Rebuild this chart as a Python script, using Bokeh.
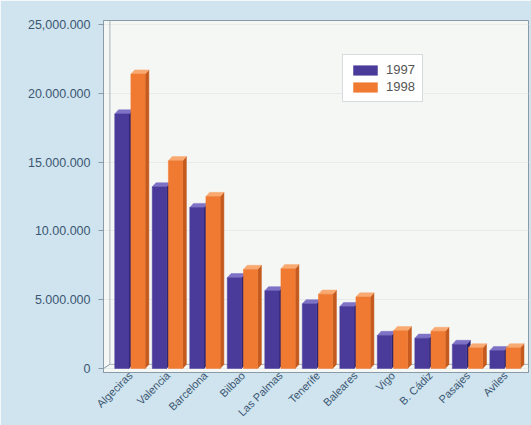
from bokeh.plotting import figure
from bokeh.models import Range1d, FixedTicker, Legend, LegendItem
from bokeh.embed import file_html
from bokeh.resources import INLINE
import math

ports = ["Algeciras", "Valencia", "Barcelona", "Bilbao", "Las Palmas", "Tenerife",
         "Baleares", "Vigo", "B. Cádiz", "Pasajes", "Aviles"]
v1997 = [18500000, 13200000, 11700000, 6600000, 5650000, 4700000,
         4500000, 2400000, 2200000, 1750000, 1300000]
v1998 = [21400000, 15100000, 12500000, 7200000, 7250000, 5400000,
         5200000, 2750000, 2700000, 1500000, 1500000]
yticks = [0, 5000000, 10000000, 15000000, 20000000, 25000000]
ytick_labels = ["0", "5.000.000", "10.00.000", "15.000.000", "20.000.000", "25,000.000"]
years = ["1997", "1998"]

FRONT = {"1997": "#4a3b9a", "1998": "#f07a32"}
SIDE = {"1997": "#2c2370", "1998": "#c45a1e"}
TOP = {"1997": "#7d72c6", "1998": "#f8aa72"}
OFFS = {"1997": -0.23, "1998": 0.20}
W = 0.38
DX = 0.10
DY = 300000

p = figure(width=531, height=425, output_backend="svg", toolbar_location=None,
           x_range=Range1d(-0.72, 10.61), y_range=Range1d(-290000, 25290000),
           min_border_left=103, min_border_right=3, min_border_top=20, min_border_bottom=53)

p.border_fill_color = "#cfe4ee"
p.background_fill_color = "#f5f7f4"
p.outline_line_color = "#8a9aa6"
p.outline_line_width = 1

p.xgrid.grid_line_color = None
p.ygrid.grid_line_color = "#e6ebec"
p.ygrid.grid_line_width = 1

# back wall hint
p.segment(x0=[-0.72], y0=[0], x1=[-0.55], y1=[DY], line_color="#8a9aa6")
p.segment(x0=[-0.55], y0=[DY], x1=[10.61], y1=[DY], line_color="#a8b4bc")
p.segment(x0=[-0.55], y0=[DY], x1=[-0.55], y1=[25290000], line_color="#a8b4bc")

renderers = {}
for i in range(len(ports)):
    for yr, vals in (("1997", v1997), ("1998", v1998)):
        v = vals[i]
        l = i + OFFS[yr] - W / 2
        r = i + OFFS[yr] + W / 2
        p.patch([r, r + DX, r + DX, r], [0, DY, v + DY, v], fill_color=SIDE[yr],
                line_color=SIDE[yr], line_width=0.5)
        p.patch([l, l + DX, r + DX, r], [v, v + DY, v + DY, v], fill_color=TOP[yr],
                line_color=TOP[yr], line_width=0.5)
        rr = p.quad(left=[l], right=[r], bottom=[0], top=[v], fill_color=FRONT[yr],
                    line_color=FRONT[yr], line_width=0.5)
        renderers.setdefault(yr, rr)

p.xaxis.ticker = FixedTicker(ticks=list(range(len(ports))))
p.xaxis.major_label_overrides = {i: n for i, n in enumerate(ports)}
p.xaxis.major_label_orientation = math.pi / 4
p.yaxis.ticker = FixedTicker(ticks=yticks)
p.yaxis.major_label_overrides = {t: s for t, s in zip(yticks, ytick_labels)}

for ax in (p.xaxis[0], p.yaxis[0]):
    ax.axis_line_color = "#8a9aa6"
    ax.major_tick_line_color = "#8a9aa6"
    ax.minor_tick_line_color = None
    ax.major_label_text_color = "#3c5673"
    ax.major_label_text_font = "Liberation Sans"
p.yaxis.major_label_text_font_size = "12.5px"
p.xaxis.major_label_text_font_size = "11px"
p.xaxis.major_tick_line_color = None
p.xaxis.major_tick_out = 0
p.xaxis.major_tick_in = 0
p.xaxis.major_label_standoff = 1
p.yaxis.major_tick_in = 0
p.yaxis.major_tick_out = 5
p.yaxis.major_label_standoff = 8

legend = Legend(items=[LegendItem(label=yr, renderers=[renderers[yr]]) for yr in years],
                location=(239, 270), orientation="vertical")
legend.label_text_font = "Liberation Sans"
legend.label_text_font_size = "13px"
legend.label_text_color = "#555555"
legend.glyph_width = 30
legend.glyph_height = 12
legend.spacing = 2
legend.padding = 7
legend.margin = 0
legend.label_standoff = 6
legend.border_line_color = "#b0b8bc"
legend.background_fill_color = "#ffffff"
legend.background_fill_alpha = 1
p.add_layout(legend)

open("out.html", "w").write(file_html(p, INLINE))
